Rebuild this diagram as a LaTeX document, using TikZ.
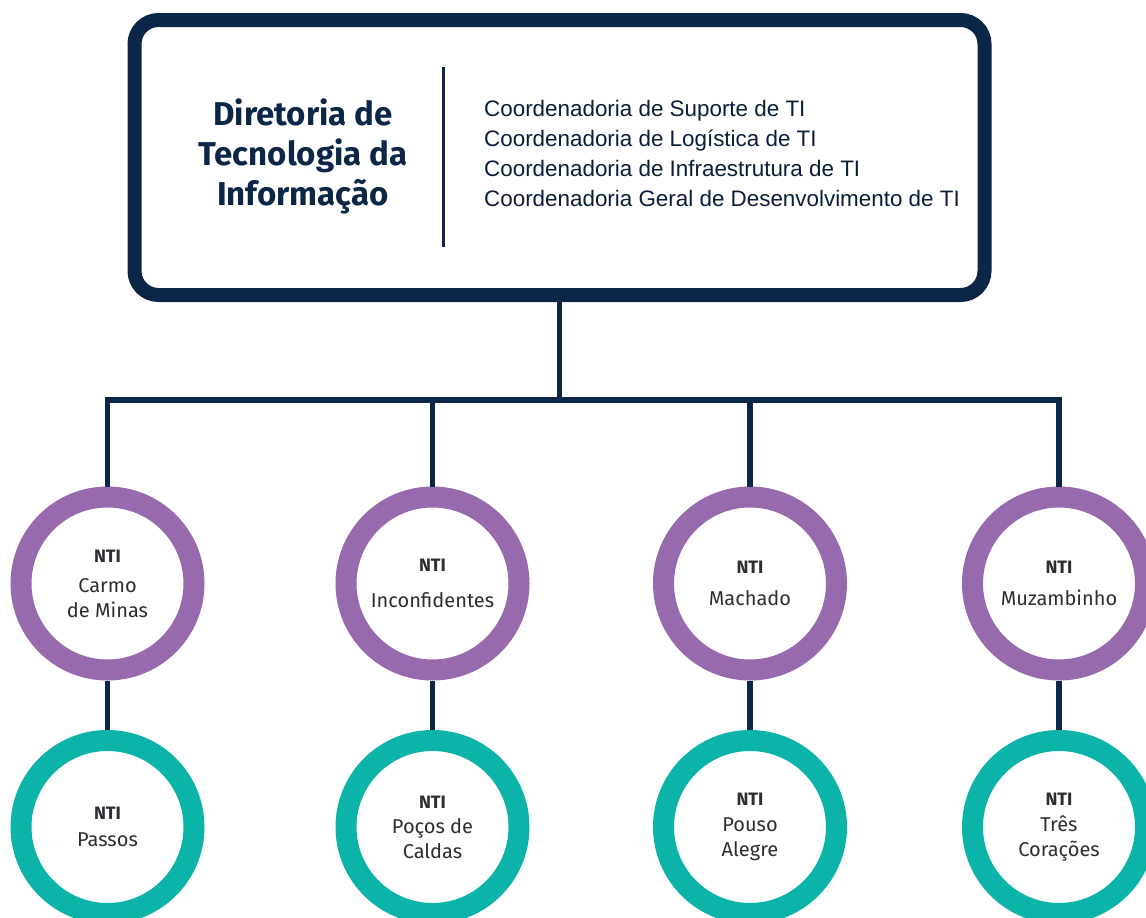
\documentclass[tikz,border=0pt]{standalone}
\usepackage{fontspec}
\setmainfont{Fira Sans}
\newfontfamily\arialf{Liberation Sans}
\definecolor{navy}{RGB}{12,38,72}
\definecolor{ntipurple}{RGB}{150,106,172}
\definecolor{ntiteal}{RGB}{11,179,169}
\definecolor{txtgray}{RGB}{45,45,50}
\begin{document}
\begin{tikzpicture}[x=1pt,y=-1pt,
  conn/.style={draw=navy,line width=5.5pt},
  ring/.style={circle,draw,line width=21pt,minimum size=173pt,inner sep=0pt,
    align=center,text=txtgray,font=\fontsize{20}{25}\selectfont},
  upper/.style={ring,draw=ntipurple},
  lower/.style={ring,draw=ntiteal}]
\useasboundingbox (0,0) rectangle (1146,918);
\node[draw=navy,line width=14pt,rounded corners=24pt,minimum width=850pt,
  minimum height=275pt,inner sep=0pt] (dir) at (559.5,157.5) {};
\node[align=center,text=navy,font=\fontsize{33}{40}\selectfont\bfseries] (title) at (303,156)
  {Diretoria de\\Tecnologia da\\Informação};
\draw[navy,line width=3pt] (443,67) -- (443,247);
\node[anchor=west,align=left,inner sep=0pt,text=navy!80!black,font=\arialf\fontsize{22.4}{30}\selectfont] (coords) at (484,153)
  {Coordenadoria de Suporte de TI\\
   Coordenadoria de Logística de TI\\
   Coordenadoria de Infraestrutura de TI\\
   Coordenadoria Geral de Desenvolvimento de TI};
\coordinate (bus) at (559.5,400);
\node[upper] (c1) at (107.5,583.5) {{\fontsize{18}{25}\selectfont\bfseries NTI}\\[5pt]Carmo\\de Minas};
\node[upper] (c2) at (432.5,583.5) {{\fontsize{18}{25}\selectfont\bfseries NTI}\\[11pt]Inconfidentes};
\node[upper] (c3) at (750,583.5) {{\fontsize{18}{25}\selectfont\bfseries NTI}\\[7pt]Machado};
\node[upper] (c4) at (1059,583.5) {{\fontsize{18}{25}\selectfont\bfseries NTI}\\[7pt]Muzambinho};
\node[lower] (p1) at (107.5,827) {{\fontsize{18}{25}\selectfont\bfseries NTI}\\[2pt]Passos};
\node[lower] (p2) at (432.5,827) {{\fontsize{18}{25}\selectfont\bfseries NTI}\\[0pt]Poços de\\Caldas};
\node[lower] (p3) at (750,827) {{\fontsize{18}{25}\selectfont\bfseries NTI}\\[1pt]Pouso\\Alegre};
\node[lower] (p4) at (1059,827) {{\fontsize{18}{25}\selectfont\bfseries NTI}\\[1pt]Três\\Corações};
\draw[conn] (dir.south) -- (bus);
\draw[conn] (c1.north) |- (c4.north |- bus) -- (c4.north);
\draw[conn] (c2.north) -- (c2.north |- bus);
\draw[conn] (c3.north) -- (c3.north |- bus);
\draw[conn] (c1.south) -- (p1.north);
\draw[conn] (c2.south) -- (p2.north);
\draw[conn] (c3.south) -- (p3.north);
\draw[conn] (c4.south) -- (p4.north);
\end{tikzpicture}
\end{document}
